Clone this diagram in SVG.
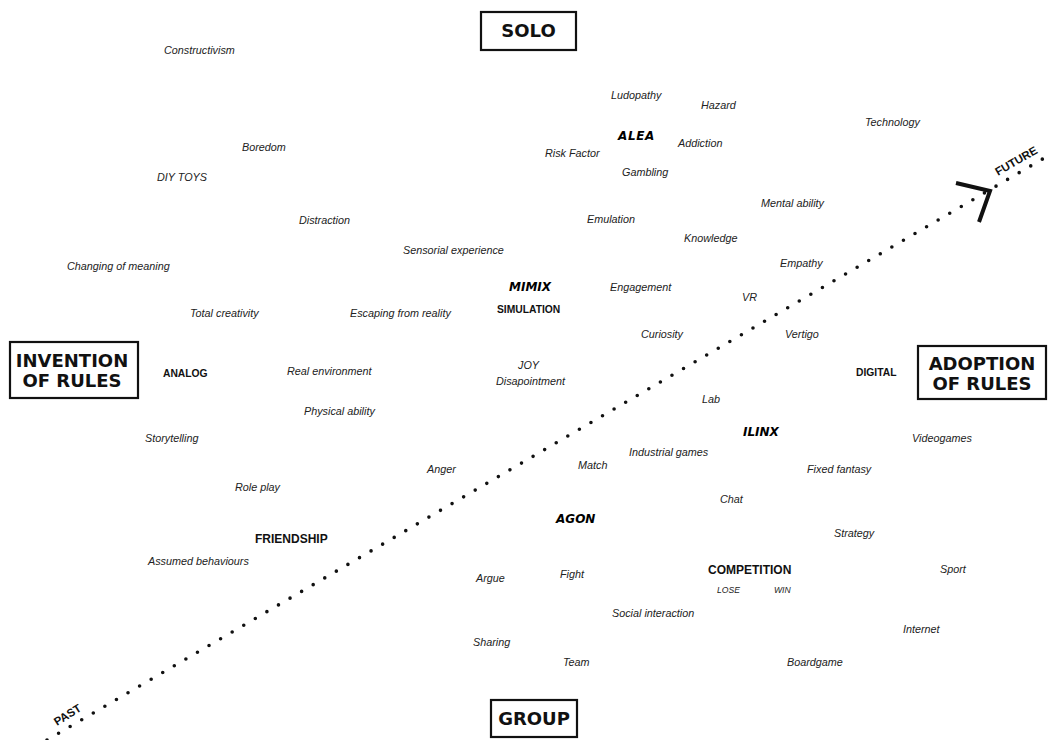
<svg xmlns="http://www.w3.org/2000/svg" width="1048" height="740" viewBox="0 0 1048 740">
<style>
.bg{fill:#fff}
.box{fill:#fff;stroke:#111;stroke-width:2.2}
.big{font-family:"DejaVu Sans",sans-serif;font-weight:bold;font-size:18px;fill:#111;text-anchor:middle}
.it{font-family:"Liberation Sans",Arial,sans-serif;font-style:italic;font-size:10.8px;fill:#222}
.sm{font-family:"Liberation Sans",Arial,sans-serif;font-style:italic;font-size:8.6px;fill:#222}
.cat{font-family:"Liberation Sans",Arial,sans-serif;font-weight:bold;font-size:10.3px;fill:#111}
.cat2{font-family:"Liberation Sans",Arial,sans-serif;font-weight:bold;font-size:12px;fill:#111}
.heavy{font-family:"DejaVu Sans",sans-serif;font-weight:bold;font-style:italic;font-size:12px;fill:#000}
.time{font-family:"Liberation Sans",Arial,sans-serif;font-weight:bold;font-size:11.5px;fill:#111}
.dots{fill:none;stroke:#111;stroke-width:3.6;stroke-linecap:round;stroke-dasharray:0 13.4}
.chev{fill:none;stroke:#111;stroke-width:4;stroke-linejoin:miter}
</style>
<rect class="bg" x="0" y="0" width="1048" height="740"/>

<g id="connectors">
  <line class="dots" x1="47" y1="740" x2="1046" y2="157"/>
  <path class="chev" d="M956,183 L990,191 L979,222"/>
  <text class="time" transform="translate(57,726) rotate(-32)">PAST</text>
  <text class="time" transform="translate(998,176) rotate(-30)">FUTURE</text>
</g>

<g id="solo"><rect class="box" x="481" y="12" width="95" height="38"/><text class="big" x="528.5" y="37">SOLO</text></g>
<g id="group"><rect class="box" x="491" y="700" width="86" height="37"/><text class="big" x="534" y="725">GROUP</text></g>
<g id="invention"><rect class="box" x="10" y="342" width="128" height="56"/><text class="big" x="72" y="367">INVENTION</text><text class="big" x="72" y="387">OF RULES</text></g>
<g id="adoption"><rect class="box" x="918" y="346" width="128" height="53"/><text class="big" x="982" y="370">ADOPTION</text><text class="big" x="982" y="390">OF RULES</text></g>

<g id="alea"><text class="heavy" x="618" y="140" letter-spacing="0.6">ALEA</text></g>
<g id="mimix"><text class="heavy" x="509" y="291">MIMIX</text></g>
<g id="ilinx"><text class="heavy" x="743" y="436">ILINX</text></g>
<g id="agon"><text class="heavy" x="556" y="523">AGON</text></g>

<g id="analog"><text class="cat" x="163" y="377">ANALOG</text></g>
<g id="simulation"><text class="cat" x="497" y="313">SIMULATION</text></g>
<g id="digital"><text class="cat" x="856" y="376">DIGITAL</text></g>
<g id="friendship"><text class="cat2" x="255" y="543">FRIENDSHIP</text></g>
<g id="competition"><text class="cat2" x="708" y="574">COMPETITION</text></g>

<g id="constructivism"><text class="it" x="164" y="54">Constructivism</text></g>
<g id="boredom"><text class="it" x="242" y="151">Boredom</text></g>
<g id="diy-toys"><text class="it" x="157" y="181">DIY TOYS</text></g>
<g id="distraction"><text class="it" x="299" y="224">Distraction</text></g>
<g id="ludopathy"><text class="it" x="611" y="99">Ludopathy</text></g>
<g id="hazard"><text class="it" x="701" y="109">Hazard</text></g>
<g id="technology"><text class="it" x="865" y="126">Technology</text></g>
<g id="addiction"><text class="it" x="678" y="147">Addiction</text></g>
<g id="risk-factor"><text class="it" x="545" y="157">Risk Factor</text></g>
<g id="gambling"><text class="it" x="622" y="176">Gambling</text></g>
<g id="emulation"><text class="it" x="587" y="223">Emulation</text></g>
<g id="mental-ability"><text class="it" x="761" y="207">Mental ability</text></g>
<g id="knowledge"><text class="it" x="684" y="242">Knowledge</text></g>
<g id="sensorial"><text class="it" x="403" y="254">Sensorial experience</text></g>
<g id="changing"><text class="it" x="67" y="270">Changing of meaning</text></g>
<g id="empathy"><text class="it" x="780" y="267">Empathy</text></g>
<g id="engagement"><text class="it" x="610" y="291">Engagement</text></g>
<g id="vr"><text class="it" x="742" y="301">VR</text></g>
<g id="total-creativity"><text class="it" x="190" y="317">Total creativity</text></g>
<g id="escaping"><text class="it" x="350" y="317">Escaping from reality</text></g>
<g id="curiosity"><text class="it" x="641" y="338">Curiosity</text></g>
<g id="vertigo"><text class="it" x="785" y="338">Vertigo</text></g>
<g id="joy"><text class="it" x="518" y="369">JOY</text></g>
<g id="real-environment"><text class="it" x="287" y="375">Real environment</text></g>
<g id="disapointment"><text class="it" x="496" y="385">Disapointment</text></g>
<g id="lab"><text class="it" x="702" y="403">Lab</text></g>
<g id="physical-ability"><text class="it" x="304" y="415">Physical ability</text></g>
<g id="storytelling"><text class="it" x="145" y="442">Storytelling</text></g>
<g id="videogames"><text class="it" x="912" y="442">Videogames</text></g>
<g id="industrial-games"><text class="it" x="629" y="456">Industrial games</text></g>
<g id="match"><text class="it" x="578" y="469">Match</text></g>
<g id="anger"><text class="it" x="427" y="473">Anger</text></g>
<g id="fixed-fantasy"><text class="it" x="807" y="473">Fixed fantasy</text></g>
<g id="role-play"><text class="it" x="235" y="491">Role play</text></g>
<g id="chat"><text class="it" x="720" y="503">Chat</text></g>
<g id="strategy"><text class="it" x="834" y="537">Strategy</text></g>
<g id="assumed"><text class="it" x="148" y="565">Assumed behaviours</text></g>
<g id="sport"><text class="it" x="940" y="573">Sport</text></g>
<g id="fight"><text class="it" x="560" y="578">Fight</text></g>
<g id="argue"><text class="it" x="476" y="582">Argue</text></g>
<g id="lose"><text class="sm" x="717" y="593">LOSE</text></g>
<g id="win"><text class="sm" x="774" y="593">WIN</text></g>
<g id="social-interaction"><text class="it" x="612" y="617">Social interaction</text></g>
<g id="internet"><text class="it" x="903" y="633">Internet</text></g>
<g id="sharing"><text class="it" x="473" y="646">Sharing</text></g>
<g id="team"><text class="it" x="563" y="666">Team</text></g>
<g id="boardgame"><text class="it" x="787" y="666">Boardgame</text></g>
</svg>
